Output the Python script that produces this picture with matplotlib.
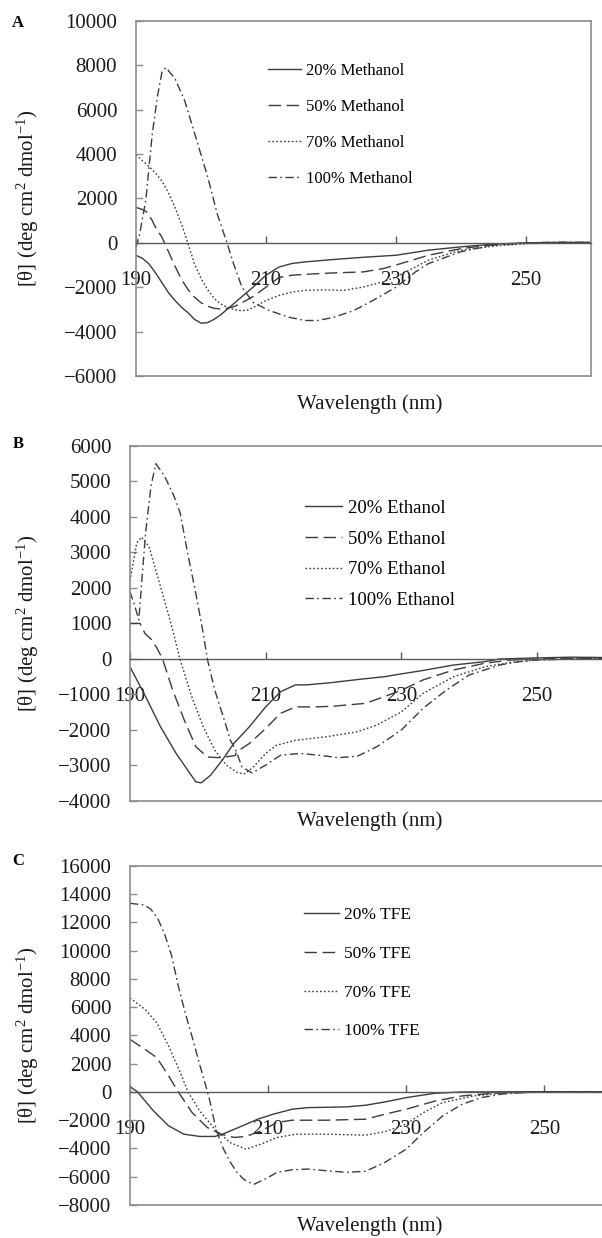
import matplotlib
matplotlib.use("Agg")
import matplotlib.pyplot as plt

plt.rcParams['font.family'] = ['Liberation Serif', 'DejaVu Serif']
plt.rcParams['mathtext.fontset'] = 'custom'
plt.rcParams['mathtext.rm'] = 'Liberation Serif'
plt.rcParams['mathtext.it'] = 'Liberation Serif:italic'
plt.rcParams['lines.scale_dashes'] = False

# ---- panel A: methanol ----
a_wl_20 = [190, 191, 192, 193, 194, 195, 196, 197, 198, 199, 200, 201, 202, 203, 204, 206, 208, 210,
           212, 214, 216, 220, 225, 230, 235, 240, 245, 250, 255, 260]
a_val_20 = [-560, -700, -950, -1350, -1800, -2250, -2600, -2900, -3150, -3450, -3620, -3600, -3450, -3250,
            -3000, -2500, -2000, -1460, -1090, -930, -860, -760, -650, -560, -330, -180, -60, 0, 20, 20]

a_wl_50 = [190, 191, 191.7, 192.5, 193, 194, 195, 196, 197, 198, 199, 200, 201, 202, 203, 204, 205, 206,
           208, 210, 212, 214, 216, 220, 225, 228, 230, 235, 240, 245, 250, 255, 260]
a_val_50 = [1600, 1500, 1380, 1000, 700, 250, -400, -1050, -1650, -2100, -2450, -2700, -2850, -2950, -2980,
            -2950, -2880, -2750, -2420, -2000, -1560, -1460, -1420, -1360, -1310, -1160, -1000, -560, -260,
            -80, -20, 0, 0]

a_wl_70 = [190, 191, 192, 193, 194, 195, 196, 197, 198, 199, 200, 201, 202, 203, 204, 205, 206, 207, 208,
           209, 210, 212, 214, 216, 219, 222, 225, 228, 230, 235, 240, 245, 250, 255, 260]
a_val_70 = [3970, 3700, 3440, 3150, 2780, 2250, 1600, 850, -30, -950, -1600, -2100, -2500, -2750, -2900,
            -3000, -3050, -3050, -2920, -2750, -2600, -2370, -2220, -2140, -2120, -2140, -1990, -1760,
            -1540, -780, -330, -150, -40, 0, 20]

a_wl_100 = [190, 190.5, 191.5, 192.5, 193.3, 194, 194.6, 196, 197.5, 199, 201, 202.5, 204, 205, 206.3,
            208, 210.5, 213.5, 216, 218, 220.5, 223.5, 226.5, 230, 233, 235, 240, 245, 250, 255, 260]
a_val_100 = [-200, 300, 1900, 4900, 6600, 7700, 7900, 7400, 6400, 4950, 3000, 1300, 0, -935, -2000,
             -2680, -3050, -3350, -3500, -3500, -3350, -3050, -2590, -2000, -1310, -935, -400, -100, 0,
             30, 20]

# ---- panel B: ethanol ----
b_wl_20 = [190, 192.3, 194.5, 196.8, 198.5, 199.7, 200.5, 201.9, 203.6, 205.3, 207.6, 210, 212.2, 214.4,
           216, 219.5, 224, 227.5, 230, 233, 237.7, 242.3, 244.5, 250, 255, 260]
b_val_20 = [-220, -1060, -1910, -2660, -3130, -3460, -3490, -3270, -2850, -2380, -1910, -1350, -920, -730,
            -730, -670, -570, -500, -420, -330, -170, -75, 0, 30, 50, 40]

b_wl_50 = [190, 191.5, 192.2, 193.2, 194, 194.8, 196.3, 198, 199.7, 201.4, 203.1, 204.8, 205.5, 205.7,
           207.6, 210, 212.2, 214.4, 217.3, 220, 224.7, 227.5, 230, 233.2, 237.7, 242.3, 246, 250, 260]
b_val_50 = [1000, 1000, 720, 540, 300, 0, -880, -1720, -2470, -2760, -2780, -2740, -2720, -2620, -2380,
            -1960, -1530, -1350, -1350, -1330, -1250, -1060, -880, -590, -310, -120, -30, 0, 30]

b_wl_70 = [190, 191, 191.7, 192.8, 194.5, 196.3, 197.4, 199.1, 200.8, 202.5, 204.2, 205.9, 207, 208.2,
           210, 211.6, 214.4, 219, 223.5, 226.4, 230, 233.2, 237.7, 242.3, 246.2, 250, 255, 260]
b_val_70 = [2200, 3270, 3430, 3170, 2040, 820, -30, -1060, -1910, -2570, -2990, -3210, -3230, -3040,
            -2660, -2430, -2290, -2190, -2050, -1860, -1490, -970, -500, -220, -90, -30, 0, 20]

b_wl_100 = [190, 190.7, 191.3, 192.3, 193.1, 193.8, 195.1, 196.5, 197.4, 198.5, 199.7, 200.8, 201.4,
            202.5, 203.9, 204.8, 205.6, 206.5, 208, 210, 212.2, 215, 217.8, 220.7, 223.5, 226.4, 230,
            233.2, 236.6, 240, 244.5, 247.4, 250, 255, 260]
b_val_100 = [1900, 1500, 1100, 3550, 4870, 5500, 5150, 4580, 4110, 2980, 1850, 720, 0, -880, -1720,
             -2290, -2570, -3040, -3210, -2990, -2710, -2660, -2710, -2780, -2740, -2470, -2000, -1390,
             -880, -450, -170, -75, -30, 0, 20]

# ---- panel C: TFE ----
c_wl_20 = [190, 191.1, 193.4, 195.6, 197.8, 200.1, 202.3, 203.4, 205.7, 208.5, 210.7, 213.5, 215.7,
           221.3, 224.1, 226.9, 230, 234.2, 238.1, 250, 260]
c_val_20 = [380, 0, -1340, -2400, -2990, -3150, -3150, -2990, -2520, -1930, -1580, -1220, -1110, -1060,
            -940, -710, -400, -90, 0, 20, 0]

c_wl_50 = [190, 192.2, 193.9, 195.6, 197, 199, 201.2, 203.2, 205.1, 206.8, 209, 211.3, 213.5, 218.5,
           224.1, 226.9, 230, 234.2, 238.1, 242.6, 250, 260]
c_val_50 = [3720, 3010, 2420, 1130, 0, -1460, -2520, -2990, -3220, -3150, -2750, -2160, -2000, -2000,
            -1930, -1580, -1220, -640, -280, -90, 0, 0]

c_wl_70 = [190, 192.2, 193.9, 195.6, 197.3, 198.4, 200.1, 202.3, 204.5, 206.8, 209, 211.3, 214.1, 218.5,
           224.1, 226.9, 230, 232.5, 235.3, 239.8, 243.7, 250, 260]
c_val_70 = [6660, 5840, 4890, 3250, 1360, 0, -1340, -2640, -3580, -4050, -3690, -3220, -2990, -2990,
            -3060, -2820, -2280, -1460, -750, -280, -90, 0, 0]

c_wl_100 = [190, 191, 192, 193, 194, 195, 196, 197, 198, 199, 200, 201, 201.5, 202.5, 203.5, 204.5,
            205.5, 206.5, 207.9, 209.6, 211.3, 213.5, 215.7, 218.5, 221.3, 224.1, 226.9, 230, 232.5,
            235.3, 238.1, 240.9, 243.7, 246.5, 250, 260]
c_val_100 = [13360, 13300, 13250, 12950, 12300, 11200, 9700, 7500, 5600, 3900, 2100, 400, -500, -2700,
             -4000, -4950, -5700, -6200, -6550, -6160, -5690, -5510, -5460, -5580, -5690, -5620, -4990,
             -4050, -2870, -1690, -870, -400, -160, -50, 0, 20]

conc = ['20%', '50%', '70%', '100%']
styles = ['-', (0, (9, 4)), (0, (1.2, 1.6)), (0, (6, 2.5, 1.2, 2.5))]

panels = [
    dict(letter='A', solvent='Methanol', rect=[0.2259, 0.6963, 0.7558, 0.2868], ylim=(-6000, 10000),
         ystep=2000, series=[(a_wl_20, a_val_20), (a_wl_50, a_val_50), (a_wl_70, a_val_70), (a_wl_100, a_val_100)],
         leg=(0.29, 0.882), legsize=12, legspace=1.2, letter_y=0.9814, xlab_y=1 - 404 / 1238),
    dict(letter='B', solvent='Ethanol', rect=[0.2159, 0.3530, 0.7890, 0.2868], ylim=(-4000, 6000),
         ystep=1000, series=[(b_wl_20, b_val_20), (b_wl_50, b_val_50), (b_wl_70, b_val_70), (b_wl_100, b_val_100)],
         leg=(0.368, 0.848), legsize=13.5, legspace=0.72, letter_y=0.6414, xlab_y=1 - 821 / 1238),
    dict(letter='C', solvent='TFE', rect=[0.2159, 0.0267, 0.8030, 0.2738], ylim=(-8000, 16000),
         ystep=2000, series=[(c_wl_20, c_val_20), (c_wl_50, c_val_50), (c_wl_70, c_val_70), (c_wl_100, c_val_100)],
         leg=(0.36, 0.879), legsize=12.5, legspace=1.3, letter_y=0.3045, xlab_y=1 - 1226 / 1238),
]

fig = plt.figure(figsize=(6.02, 12.38), dpi=100)

for p in panels:
    ax = fig.add_axes(p['rect'])
    for (wl, val), c, ls in zip(p['series'], conc, styles):
        ax.plot(wl, val, color='#3c3c3c', lw=1.0, linestyle=ls, label=f"{c} {p['solvent']}")

    ax.set_xlim(190, 260)
    ax.set_ylim(*p['ylim'])
    ax.set_xticks([190, 210, 230, 250])
    ax.set_yticks(range(p['ylim'][0], p['ylim'][1] + 1, p['ystep']))

    for s in ['left', 'right', 'top']:
        ax.spines[s].set_color('#8c8c8c')
        ax.spines[s].set_linewidth(1.2)
    ax.spines['bottom'].set_position(('data', 0))
    ax.spines['bottom'].set_color('#5a5a5a')
    ax.spines['bottom'].set_linewidth(1.0)
    # frame edge at the bottom of the box
    ax.plot([0, 1], [0, 0], transform=ax.transAxes, color='#8c8c8c', lw=1.2, clip_on=False)

    ax.tick_params(axis='y', direction='in', length=5, width=1, color='#8c8c8c',
                   labelsize=15, pad=13.5, labelcolor='#1a1a1a')
    ax.tick_params(axis='x', direction='in', length=5, width=1, color='#5a5a5a',
                   labelsize=15, pad=20, labelcolor='#1a1a1a')

    ax.set_ylabel(r'[θ] (deg cm$^2$ dmol$^{-1}$)', fontsize=15, color='#1a1a1a')
    left, bottom, width, height = p['rect']
    ax.yaxis.set_label_coords((41 / 602 - left) / width, 0.5)

    fig.text(370 / 602, p['xlab_y'], 'Wavelength (nm)', fontsize=15, ha='center', va='center',
             color='#1a1a1a')
    fig.text(0.030, p['letter_y'], p['letter'], fontsize=12, fontweight='bold', ha='center',
             va='center')

    ax.legend(loc='upper left', bbox_to_anchor=p['leg'], frameon=False, fontsize=p['legsize'],
              handlelength=2.0, handletextpad=0.3, labelspacing=p['legspace'], borderpad=0,
              borderaxespad=0)

fig.savefig('out.png', dpi=100, facecolor='white')
